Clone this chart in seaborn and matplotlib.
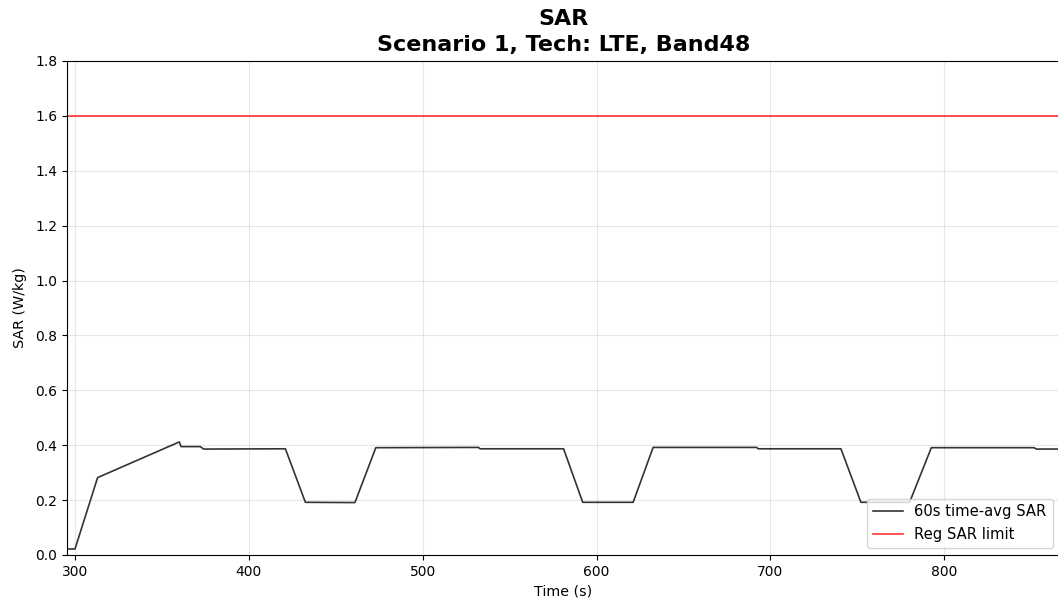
import matplotlib
matplotlib.use("Agg")
import matplotlib.pyplot as plt
import seaborn as sns
import pandas as pd

# 60s time-averaged SAR
time_s = [295, 300, 313, 360, 361, 372, 374, 421, 432.5, 461, 473,
          532, 533, 581, 592, 621, 632.5,
          692, 693, 740.5, 752, 780, 792.5,
          851.5, 853, 870]
sar = [0.022, 0.022, 0.282, 0.412, 0.395, 0.395, 0.386, 0.387, 0.192, 0.191, 0.391,
       0.392, 0.387, 0.387, 0.192, 0.192, 0.392,
       0.392, 0.387, 0.387, 0.192, 0.192, 0.391,
       0.391, 0.386, 0.386]
sar_limit = 1.6

df = pd.DataFrame({"Time (s)": time_s, "SAR (W/kg)": sar})

fig = plt.figure(figsize=(10.58, 6.08), dpi=100)
ax = fig.add_axes([67/1058, 1 - 555/608, (1060 - 67)/1058, (555 - 61)/608])

sns.lineplot(data=df, x="Time (s)", y="SAR (W/kg)", ax=ax, color="black",
             alpha=0.8, linewidth=1.2, label="60s time-avg SAR")
ax.axhline(sar_limit, color="red", alpha=0.8, linewidth=1.2, label="Reg SAR limit")

ax.set_xlim(295.4, 866.5)
ax.set_ylim(0, 1.8)
ax.set_yticks([0.0, 0.2, 0.4, 0.6, 0.8, 1.0, 1.2, 1.4, 1.6, 1.8])
ax.grid(True, alpha=0.3)
ax.set_xlabel("Time (s)", fontsize=10.3)
ax.set_ylabel("SAR (W/kg)", fontsize=10.3, labelpad=6)
ax.set_title("SAR\nScenario 1, Tech: LTE, Band48", fontsize=16, fontweight="bold",
             pad=7.5, linespacing=1.38)
ax.legend(loc="lower right", fontsize=10.6)

fig.savefig("out.png", dpi=100)
